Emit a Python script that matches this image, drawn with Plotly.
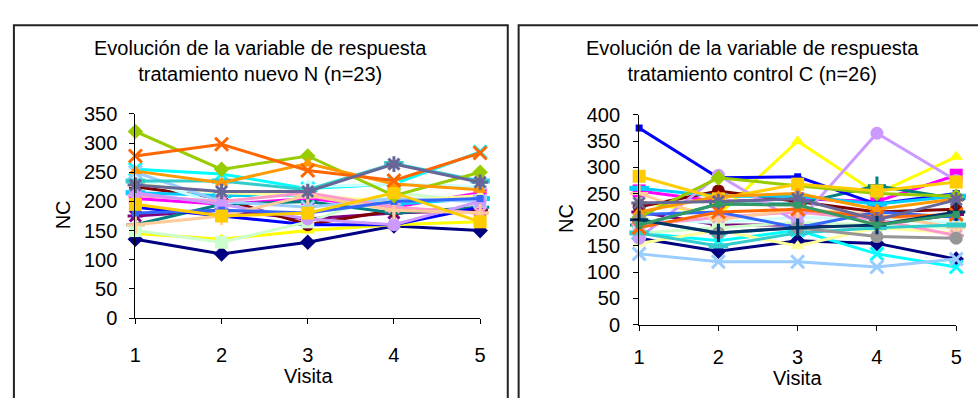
import plotly.graph_objects as go

W, H = 978, 398

visitas = [1, 2, 3, 4, 5]

# Excel default series palette and marker cycle
colores = ["#000080", "#FF00FF", "#FFFF00", "#00FFFF", "#800080", "#800000",
           "#008080", "#0000FF", "#00CCFF", "#CCFFFF", "#CCFFCC", "#FFFF99",
           "#99CCFF", "#FF99CC", "#CC99FF", "#FFCC99", "#3366FF", "#33CCCC",
           "#99CC00", "#FFCC00", "#FF9900", "#FF6600", "#666699", "#969696",
           "#003366", "#339966"]
marcadores = ["diamond", "square", "triangle-up", "x-thin-open", "asterisk-open",
              "circle", "cross-thin-open", "square", "line-ew-open"]
tamanos = [12, 13, 12, 13, 13, 13, 13, 7, 14]

# Tratamiento nuevo N (n=23)
nuevo_N = [
    [135, 110, 130, 158, 150],
    [205, 195, 205, 190, 215],
    [145, 135, 150, 160, 165],
    [255, 247, 222, 230, 285],
    [175, 185, 170, 180, 185],
    [225, 205, 160, 185, 185],
    [160, 195, 200, 180, 190],
    [190, 175, 160, 160, 190],
    [215, 210, 210, 195, 205],
    [240, 195, 225, 230, 225],
    [150, 130, 165, 215, 200],
    [230, 215, 210, 200, 210],
    [250, 200, 190, 205, 200],
    [210, 200, 215, 190, 180],
    [215, 195, 170, 160, 200],
    [160, 175, 210, 185, 180],
    [180, 185, 180, 200, 205],
    [235, 235, 220, 265, 235],
    [320, 255, 278, 210, 250],
    [195, 175, 180, 215, 165],
    [252, 232, 265, 230, 220],
    [278, 298, 253, 236, 283],
    [228, 217, 217, 264, 233],
]

# Tratamiento control C (n=26)
control_C = [
    [165, 140, 160, 155, 125],
    [255, 235, 240, 235, 285],
    [235, 210, 350, 250, 320],
    [175, 160, 180, 135, 110],
    [215, 190, 190, 190, 210],
    [225, 255, 235, 215, 220],
    [190, 230, 230, 265, 240],
    [375, 280, 282, 230, 250],
    [260, 245, 245, 230, 245],
    [200, 195, 205, 200, 195],
    [175, 185, 195, 190, 185],
    [155, 180, 150, 185, 175],
    [135, 120, 120, 110, 125],
    [190, 205, 215, 200, 170],
    [165, 285, 195, 365, 275],
    [250, 200, 220, 210, 185],
    [210, 215, 185, 215, 205],
    [175, 150, 175, 185, 190],
    [205, 280, 265, 250, 245],
    [283, 240, 268, 255, 272],
    [215, 245, 250, 220, 240],
    [185, 215, 220, 205, 210],
    [232, 235, 240, 200, 238],
    [200, 175, 185, 168, 165],
    [200, 175, 185, 190, 215],
    [190, 230, 228, 190, 210],
]

titulo_N = "Evolución de la variable de respuesta<br>tratamiento nuevo N (n=23)"
titulo_C = "Evolución de la variable de respuesta<br>tratamiento control C (n=26)"

FONT = "Arial, Liberation Sans, sans-serif"
FS = 20

fig = go.Figure()


def add_series(data, xa, ya):
    for i, vals in enumerate(data):
        col = colores[i % len(colores)]
        k = i % len(marcadores)
        sym = marcadores[k]
        is_open = "open" in sym
        fig.add_trace(go.Scatter(
            x=visitas, y=vals, xaxis=xa, yaxis=ya, mode="lines+markers",
            name=f"Paciente {i+1}", showlegend=False, cliponaxis=False,
            line=dict(color=col, width=3),
            marker=dict(symbol=sym, size=tamanos[k], color=col,
                        line=dict(color=col, width=(5 if k == 8 else 3) if is_open else 0)),
        ))


add_series(nuevo_N, "x", "y")
add_series(control_C, "x2", "y2")


def px_x(p):
    return p / W


def px_y(p):
    return 1 - p / H


axis_common = dict(showgrid=False, zeroline=False, showline=True, linecolor="black",
                   linewidth=1.2, ticks="outside", ticklen=5, tickcolor="black",
                   tickwidth=1.2,
                   tickfont=dict(family=FONT, size=FS, color="black"))

fig.update_layout(
    width=W, height=H, margin=dict(l=0, r=0, t=0, b=0),
    paper_bgcolor="white", plot_bgcolor="white",
    xaxis=dict(domain=[px_x(131), px_x(480)], range=[1, 5], tickvals=visitas,
               anchor="y", ticklabelstandoff=14, **axis_common),
    yaxis=dict(domain=[px_y(325), px_y(109)], range=[0, 350], dtick=50,
               anchor="x", ticklabelstandoff=8, **axis_common),
    xaxis2=dict(domain=[px_x(641), px_x(962)], range=[1, 5], tickvals=visitas,
                anchor="y2", ticklabelstandoff=9, **axis_common),
    yaxis2=dict(domain=[px_y(332), px_y(110)], range=[0, 400], dtick=50,
                anchor="x2", ticklabelstandoff=9, **axis_common),
)

# chart frames
fig.add_shape(type="rect", xref="paper", yref="paper",
              x0=px_x(8), x1=px_x(508), y0=px_y(430), y1=px_y(15),
              line=dict(color="#222222", width=2), fillcolor="rgba(0,0,0,0)")
fig.add_shape(type="rect", xref="paper", yref="paper",
              x0=px_x(519), x1=px_x(1010), y0=px_y(430), y1=px_y(15),
              line=dict(color="#222222", width=2), fillcolor="rgba(0,0,0,0)")

txt = dict(family=FONT, size=FS, color="black")
ann = [
    dict(text=titulo_N, x=px_x(258), y=px_y(53)),
    dict(text=titulo_C, x=px_x(756), y=px_y(53)),
    dict(text="Visita", x=px_x(306), y=px_y(386)),
    dict(text="Visita", x=px_x(801), y=px_y(388)),
    dict(text="NC", x=px_x(58), y=px_y(216), textangle=-90),
    dict(text="NC", x=px_x(567), y=px_y(220), textangle=-90),
]
for a in ann:
    fig.add_annotation(xref="paper", yref="paper", showarrow=False,
                       xanchor="center", yanchor="middle", font=txt, **a)

fig.write_html("out.html")
